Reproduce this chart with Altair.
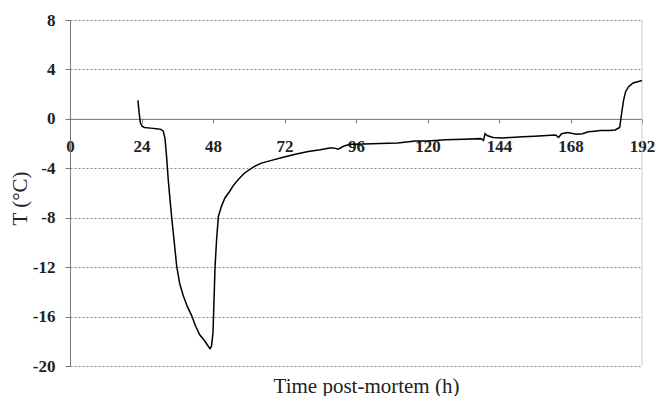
import altair as alt
import pandas as pd

hours = [22.8, 23.2, 23.6, 24.2, 25.0, 27.0, 29.0, 30.5, 31.3, 31.9, 32.4, 33.0, 33.6, 34.1,
         35.0, 35.8, 36.8, 38.0, 39.4, 40.8, 42.2, 43.6, 45.0, 46.4, 47.0, 47.5, 48.0, 48.3,
         48.7, 49.2, 49.8, 50.8, 52.0, 53.5, 54.8, 56.5, 58.5, 61.5, 64.0, 67.0, 71.6, 76.0,
         80.0, 84.0, 87.2, 88.5, 90.0, 92.0, 94.0, 96.0, 104.0, 110.0, 116.0, 120.0, 126.0,
         132.0, 138.0, 138.8, 139.3, 140.0, 142.0, 145.0, 148.0, 152.0, 156.0, 160.0, 163.0,
         164.0, 165.0, 167.0, 170.0, 172.0, 174.0, 176.0, 178.0, 181.0, 183.0, 184.5, 185.2,
         185.8, 186.5, 187.5, 189.0, 190.5, 192.0]
temps = [1.5, 0.5, -0.3, -0.6, -0.7, -0.75, -0.8, -0.85, -1.0, -1.6, -3.0, -5.0, -6.6, -7.9,
         -10.0, -11.9, -13.3, -14.3, -15.2, -15.9, -16.8, -17.5, -17.9, -18.4, -18.6, -18.4, -17.3, -15.0,
         -11.9, -9.8, -7.9, -7.1, -6.4, -5.9, -5.4, -4.9, -4.4, -3.9, -3.6, -3.4, -3.1, -2.85,
         -2.65, -2.5, -2.35, -2.35, -2.45, -2.2, -2.05, -2.05, -2.0, -1.95, -1.8, -1.8, -1.7,
         -1.65, -1.6, -1.75, -1.2, -1.35, -1.5, -1.55, -1.5, -1.45, -1.4, -1.35, -1.3,
         -1.5, -1.2, -1.1, -1.25, -1.2, -1.05, -1.0, -0.95, -0.95, -0.9, -0.7, 0.5,
         1.5, 2.2, 2.6, 2.9, 3.0, 3.1]

x_ticks = [0, 24, 48, 72, 96, 120, 144, 168, 192]
y_ticks = [-20, -16, -12, -8, -4, 0, 4, 8]

df = pd.DataFrame({"h": hours, "T": temps})

W, H = 572, 346
y_zero_from_bottom = H * 20 / 28

xscale = alt.Scale(domain=[0, 192], nice=False, zero=False)
yscale = alt.Scale(domain=[-20, 8], nice=False)

line = alt.Chart(df).mark_line(color="black", strokeWidth=1.5).encode(
    x=alt.X("h:Q", scale=xscale,
            axis=alt.Axis(values=x_ticks, offset=-y_zero_from_bottom, grid=False,
                          domainColor="#777", tickColor="#777", tickSize=4,
                          labelPadding=16, labelFont="Liberation Serif", labelFontSize=17,
                          labelFontWeight="bold", labelColor="#222", labelFlush=False,
                          labelExpr="'' + datum.value",
                          title="Time post-mortem (h)", titleFont="Liberation Serif",
                          titleFontSize=21, titleFontWeight="normal", titleColor="#222",
                          titleX=296, titleY=y_zero_from_bottom + 26,
                          titleBaseline="alphabetic", titleAnchor="middle")),
    y=alt.Y("T:Q", scale=yscale,
            axis=alt.Axis(values=y_ticks, grid=True, gridDash=[2, 2], gridColor="#888",
                          gridWidth=1, domainColor="#777", tickColor="#777", tickSize=5,
                          labelPadding=10, labelFont="Liberation Serif", labelFontSize=17,
                          labelFontWeight="bold", labelColor="#222",
                          labelExpr="'' + datum.value",
                          title="T (°C)", titleFont="Liberation Serif", titleFontSize=21,
                          titleFontWeight="normal", titleColor="#222",
                          titleX=-50, titleY=178, titleAngle=-90, titleBaseline="middle",
                          titleAlign="center")),
)

border = alt.Chart(pd.DataFrame({"xb": [192], "y1": [-20], "y2": [8]})).mark_rule(
    color="#ccc", strokeWidth=1).encode(
    x=alt.X("xb:Q", scale=xscale),
    y=alt.Y("y1:Q", scale=yscale),
    y2="y2:Q",
)

chart = alt.layer(border, line).properties(
    width=W, height=H,
    autosize=alt.AutoSizeParams(type="none"),
    padding={"left": 70, "top": 20, "right": 15, "bottom": 30},
    background="white",
).configure_view(stroke=None)

chart.save("out.html", embed_options={"renderer": "svg", "actions": False})
